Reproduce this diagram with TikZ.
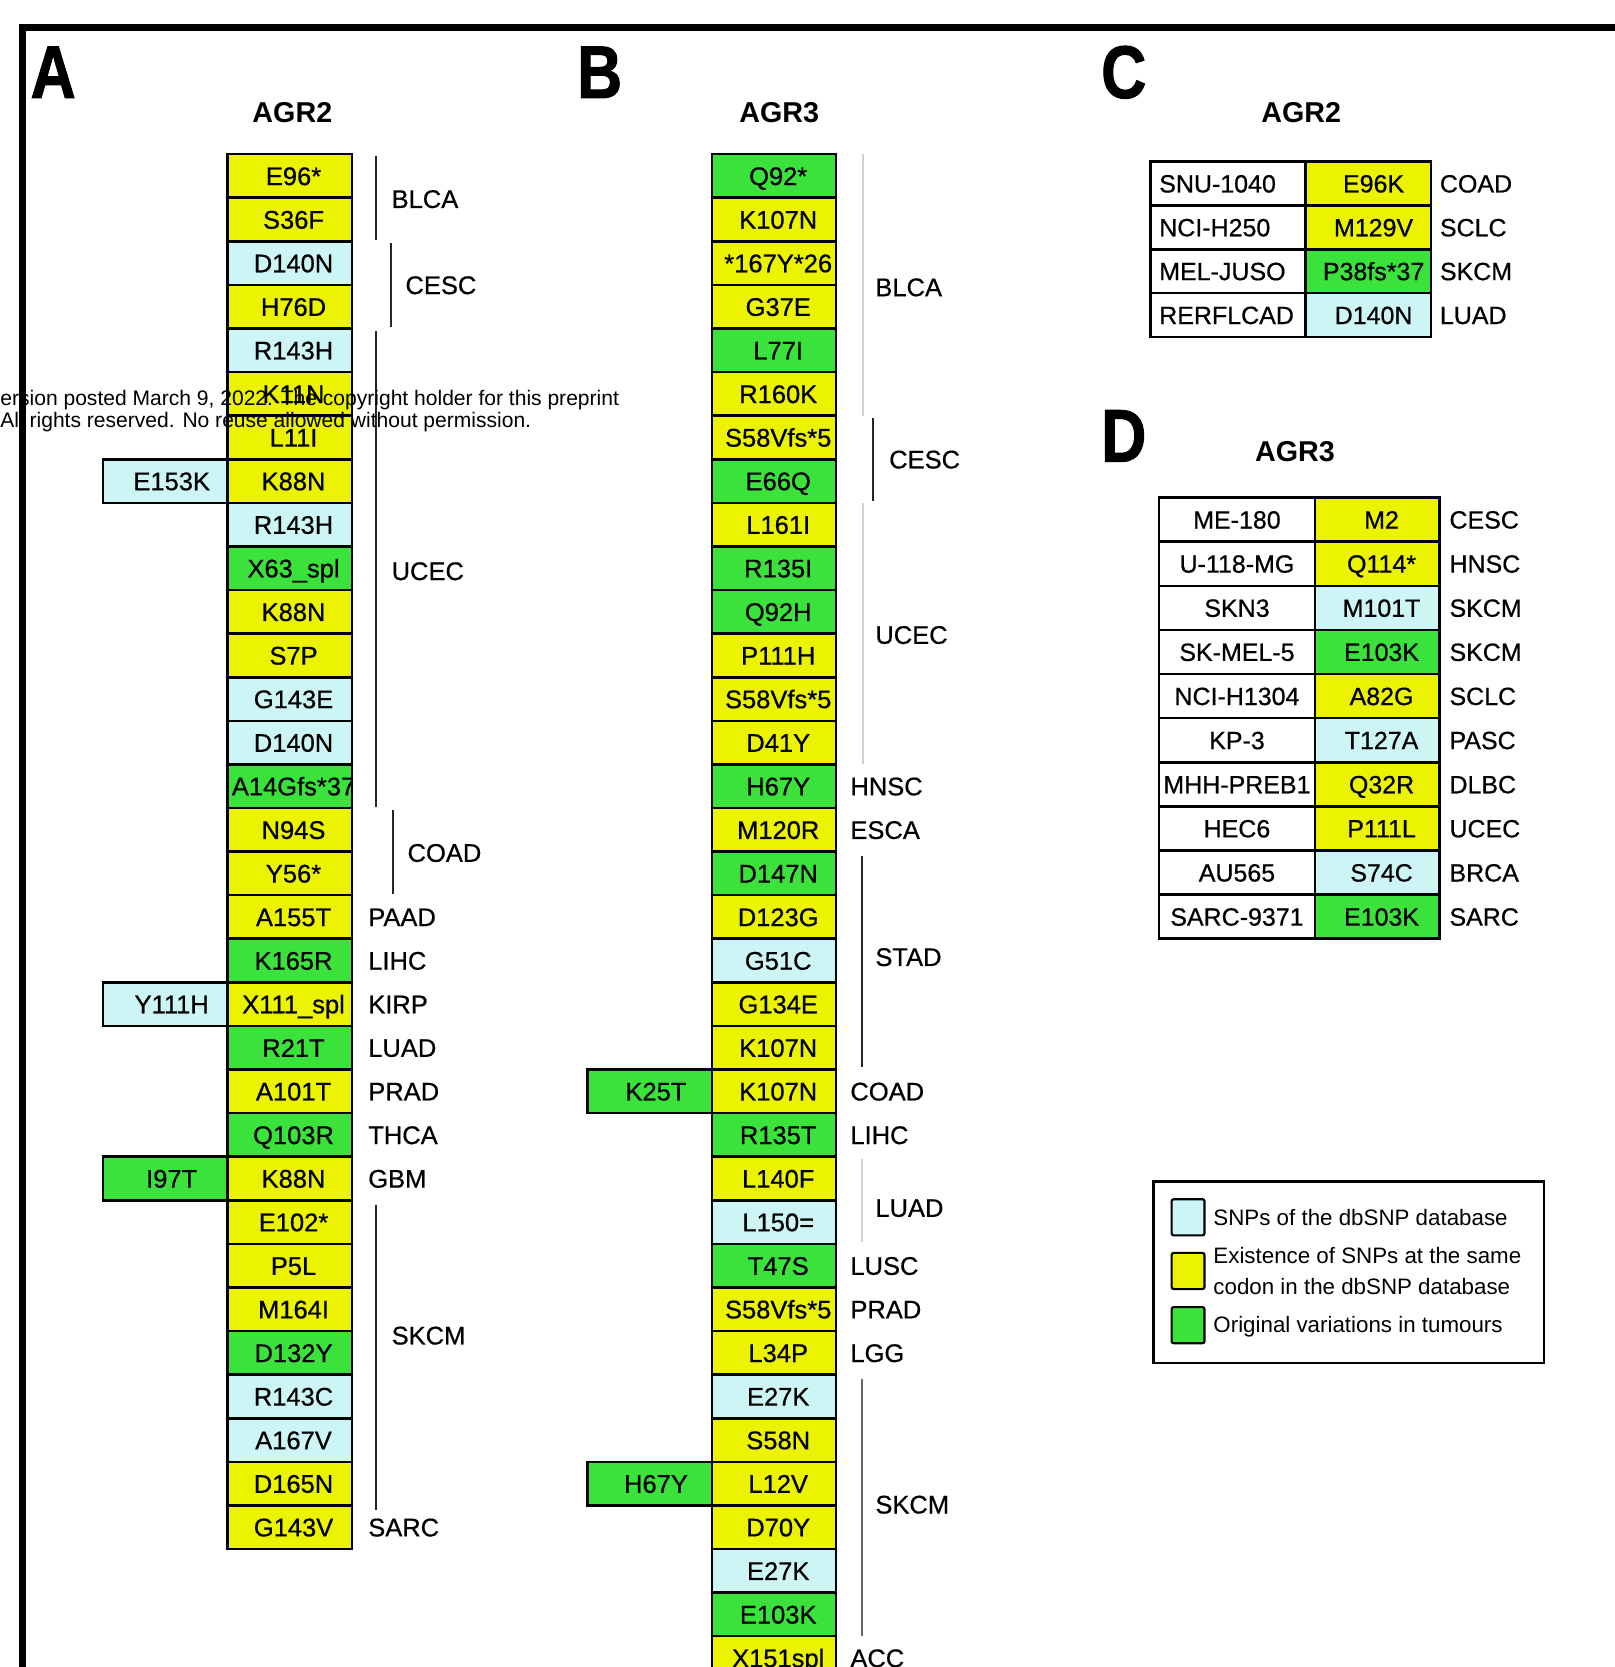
\documentclass[tikz,border=0pt]{standalone}
\usepackage{fontspec}
\setmainfont{Liberation Sans}
\newfontfamily\heavyfont{Liberation Sans}[FakeBold=0.6]
\newfontfamily\bigfont{Liberation Sans Bold}[FakeBold=1.5]
\usepackage{graphicx}
\definecolor{cy}{RGB}{205,245,245}
\definecolor{ye}{RGB}{236,243,0}
\definecolor{gr}{RGB}{60,226,60}
\newcommand\bigvs[1]{\scalebox{1.05}[1.25]{#1}}
\def\listA{ye/E96*, ye/S36F, cy/D140N, ye/H76D, cy/R143H, ye/K11N, ye/L11I, ye/K88N, cy/R143H, gr/X63\_spl, ye/K88N, ye/S7P, cy/G143E, cy/D140N, gr/A14Gfs*37, ye/N94S, ye/Y56*, ye/A155T, gr/K165R, ye/X111\_spl, gr/R21T, ye/A101T, gr/Q103R, ye/K88N, ye/E102*, ye/P5L, ye/M164I, gr/D132Y, cy/R143C, cy/A167V, ye/D165N, ye/G143V}
\def\listB{gr/Q92*, ye/K107N, ye/*167Y*26, ye/G37E, gr/L77I, ye/R160K, ye/S58Vfs*5, gr/E66Q, ye/L161I, gr/R135I, gr/Q92H, ye/P111H, ye/S58Vfs*5, ye/D41Y, gr/H67Y, ye/M120R, gr/D147N, ye/D123G, cy/G51C, ye/G134E, ye/K107N, ye/K107N, gr/R135T, ye/L140F, cy/L150=, gr/T47S, ye/S58Vfs*5, ye/L34P, cy/E27K, ye/S58N, ye/L12V, ye/D70Y, cy/E27K, gr/E103K, ye/X151spl}
\begin{document}
\begin{tikzpicture}[x=0.5pt,y=-0.5pt,
  cellbox/.style={draw=black, line width=1.2pt, minimum width=58.5pt, minimum height=20.5pt, inner sep=0pt, outer sep=0pt},
  mut/.style={font=\heavyfont\fontsize{12}{12}\selectfont, inner sep=0pt, text height=8.6pt, text depth=0pt},
  can/.style={font=\heavyfont\fontsize{12}{12}\selectfont, inner sep=0pt, anchor=west, text height=8.6pt, text depth=0pt},
  brk/.style={line width=1pt, black!85},
  fbrk/.style={line width=0.8pt, black!18},
  ttl/.style={font=\bfseries\fontsize{13.5}{13.5}\selectfont, inner sep=0pt},
  big/.style={font=\bigfont\fontsize{28}{28}\selectfont, inner sep=0pt},
  tcell/.style={draw=black, line width=1.2pt, inner sep=0pt, outer sep=0pt},
  tx/.style={font=\heavyfont\fontsize{11.75}{11.75}\selectfont, inner sep=0pt, text height=8.4pt, text depth=0pt},
  legtx/.style={font=\fontsize{10.5}{10.5}\selectfont, inner sep=0pt, anchor=west, text height=7.5pt, text depth=0pt},
  sw/.style={draw=black, line width=1pt, rounded corners=1pt, minimum width=15.5pt, minimum height=17pt, inner sep=0pt},
  wm/.style={font=\fontsize{9.9}{9.9}\selectfont, inner sep=0pt, anchor=west, text height=7.1pt, text depth=0pt}
]
\useasboundingbox (0,0) rectangle (1519,1568);
% frame
\draw[line width=3pt] (21,1568) -- (21,26) -- (1519,26);
% panel letters and titles
\node[big] (lA) at (50,68) {\bigvs{A}};
\node[big] (lB) at (564,68) {\bigvs{B}};
\node[big] (lC) at (1057,68) {\bigvs{C}};
\node[big] (lD) at (1057,410) {\bigvs{D}};
\node[ttl] (tA) at (275,106) {AGR2};
\node[ttl] (tB) at (733,106) {AGR3};
\node[ttl] (tC) at (1224,106) {AGR2};
\node[ttl] (tD) at (1218,425) {AGR3};

% ---------------- Panel A ----------------
\foreach \c/\t [count=\i] in \listA {
  \node[cellbox, fill=\c] (a\i) at (272.5,{145+(\i-0.5)*41}) {};
}
\node[cellbox, fill=cy, anchor=east] (xa8) at (a8.west) {};
\node[cellbox, fill=cy, anchor=east] (xa20) at (a20.west) {};
\node[cellbox, fill=gr, anchor=east] (xa24) at (a24.west) {};
\begin{scope}
\clip (214,145) rectangle (331,1457);
\foreach \c/\t [count=\i] in \listA {
  \node[mut] (ta\i) at ([xshift=1.8pt]a\i.center) {\t};
}
\end{scope}
\node[mut] (txa8) at ([xshift=3pt]xa8.center) {E153K};
\node[mut] (txa20) at ([xshift=3pt]xa20.center) {Y111H};
\node[mut] (txa24) at ([xshift=3pt]xa24.center) {I97T};
% brackets A
\draw[brk] ([xshift=11.5pt,yshift=-1pt]a1.north east) -- ([xshift=11.5pt,yshift=0.5pt]a2.south east);
\draw[brk] ([xshift=18.5pt,yshift=-1pt]a3.north east) -- ([xshift=18.5pt,yshift=0.5pt]a4.south east);
\draw[brk] ([xshift=11.5pt,yshift=-1pt]a5.north east) -- ([xshift=11.5pt,yshift=0.5pt]a15.south east);
\draw[brk] ([xshift=19.5pt,yshift=-1pt]a16.north east) -- ([xshift=19.5pt,yshift=0.5pt]a17.south east);
\draw[brk] ([xshift=11.5pt,yshift=-2pt]a25.north east) -- ([xshift=11.5pt,yshift=-2pt]a31.south east);
\node[can] (cA1) at (368,187) {BLCA};
\node[can] (cA2) at (381,268) {CESC};
\node[can] (cA3) at (368,537) {UCEC};
\node[can] (cA4) at (383,802) {COAD};
\node[can] (cA5) at (368,1256) {SKCM};
\node[can] (cA6) at ([xshift=7.5pt]a18.east) {PAAD};
\node[can] (cA7) at ([xshift=7.5pt]a19.east) {LIHC};
\node[can] (cA8) at ([xshift=7.5pt]a20.east) {KIRP};
\node[can] (cA9) at ([xshift=7.5pt]a21.east) {LUAD};
\node[can] (cA10) at ([xshift=7.5pt]a22.east) {PRAD};
\node[can] (cA11) at ([xshift=7.5pt]a23.east) {THCA};
\node[can] (cA12) at ([xshift=7.5pt]a24.east) {GBM};
\node[can] (cA13) at ([xshift=7.5pt]a32.east) {SARC};

% ---------------- Panel B ----------------
\foreach \c/\t [count=\i] in \listB {
  \node[cellbox, fill=\c] (b\i) at (728,{145+(\i-0.5)*41}) {};
}
\node[cellbox, fill=gr, anchor=east] (xb22) at (b22.west) {};
\node[cellbox, fill=gr, anchor=east] (xb31) at (b31.west) {};
\begin{scope}
\clip (669,145) rectangle (787,1568);
\foreach \c/\t [count=\i] in \listB {
  \node[mut] (tb\i) at ([xshift=2pt]b\i.center) {\t};
}
\end{scope}
\node[mut] (txb22) at ([xshift=3pt]xb22.center) {K25T};
\node[mut] (txb31) at ([xshift=3pt]xb31.center) {H67Y};
% brackets B
\draw[fbrk] ([xshift=12.5pt]b1.north east) -- ([xshift=12.5pt]b6.south east);
\draw[brk] ([xshift=17.5pt,yshift=-1pt]b7.north east) -- ([xshift=17.5pt,yshift=1pt]b8.south east);
\draw[fbrk] ([xshift=12.5pt]b9.north east) -- ([xshift=12.5pt]b14.south east);
\draw[brk] ([xshift=12pt,yshift=-2pt]b17.north east) -- ([xshift=12pt,yshift=1pt]b21.south east);
\draw[fbrk] ([xshift=12pt,yshift=-1pt]b24.north east) -- ([xshift=12pt,yshift=1pt]b25.south east);
\draw[line width=0.9pt, black!60] ([xshift=12pt,yshift=-2pt]b29.north east) -- ([xshift=12pt,yshift=0pt]b34.south east);
\node[can] (cB1) at (823,270) {BLCA};
\node[can] (cB2) at (836,432) {CESC};
\node[can] (cB3) at (823,597) {UCEC};
\node[can] (cB4) at ([xshift=6.5pt]b15.east) {HNSC};
\node[can] (cB5) at ([xshift=6.5pt]b16.east) {ESCA};
\node[can] (cB6) at (823,900) {STAD};
\node[can] (cB7) at ([xshift=6.5pt]b22.east) {COAD};
\node[can] (cB8) at ([xshift=6.5pt]b23.east) {LIHC};
\node[can] (cB9) at (823,1136) {LUAD};
\node[can] (cB10) at ([xshift=6.5pt]b26.east) {LUSC};
\node[can] (cB11) at ([xshift=6.5pt]b27.east) {PRAD};
\node[can] (cB12) at ([xshift=6.5pt]b28.east) {LGG};
\node[can] (cB13) at (823,1415) {SKCM};
\node[can] (cB14) at ([xshift=6.5pt]b35.east) {ACC};

% ---------------- Panel C ----------------
\foreach \cl/\c/\m/\ca [count=\i] in {SNU-1040/ye/E96K/COAD, NCI-H250/ye/M129V/SCLC, MEL-JUSO/gr/P38fs*37/SKCM, RERFLCAD/cy/D140N/LUAD} {
  \node[tcell, fill=white, minimum width=73pt, minimum height=20.625pt] (cl\i) at (1155,{152+(\i-0.5)*41.25}) {};
  \node[tcell, fill=\c, minimum width=59pt, minimum height=20.625pt] (cm\i) at (1287,{152+(\i-0.5)*41.25}) {};
  \node[tx, anchor=west] (clt\i) at ([xshift=4pt]cl\i.west) {\cl};
  \node[tx] (cmt\i) at ([xshift=2.5pt]cm\i.center) {\m};
  \node[tx, anchor=west] (cca\i) at ([xshift=4pt]cm\i.east) {\ca};
}

% ---------------- Panel D ----------------
\foreach \cl/\c/\m/\ca [count=\i] in {ME-180/ye/M2/CESC, U-118-MG/ye/Q114*/HNSC, SKN3/cy/M101T/SKCM, SK-MEL-5/gr/E103K/SKCM, NCI-H1304/ye/A82G/SCLC, KP-3/cy/T127A/PASC, MHH-PREB1/ye/Q32R/DLBC, HEC6/ye/P111L/UCEC, AU565/cy/S74C/BRCA, SARC-9371/gr/E103K/SARC} {
  \node[tcell, fill=white, minimum width=73.5pt, minimum height=20.75pt] (dl\i) at (1163.5,{468+(\i-0.5)*41.5}) {};
  \node[tcell, fill=\c, minimum width=58.5pt, minimum height=20.75pt] (dm\i) at (1295.5,{468+(\i-0.5)*41.5}) {};
  \node[tx] (dlt\i) at (dl\i.center) {\cl};
  \node[tx] (dmt\i) at ([xshift=2pt]dm\i.center) {\m};
  \node[tx, anchor=west] (dca\i) at ([xshift=4.5pt]dm\i.east) {\ca};
}

% ---------------- Legend ----------------
\node[draw=black, line width=1.2pt, minimum width=183.5pt, minimum height=85.5pt, inner sep=0pt, anchor=north west] (leg) at (1084,1110) {};
\node[sw, fill=cy] (sw1) at (1117.5,1145) {};
\node[sw, fill=ye] (sw2) at (1117.5,1195.5) {};
\node[sw, fill=gr] (sw3) at (1117.5,1246.5) {};
\node[legtx] (lg1) at (1141,1145) {SNPs of the dbSNP database};
\node[legtx] (lg2) at (1141,1181) {Existence of SNPs at the same};
\node[legtx] (lg3) at (1141,1210) {codon in the dbSNP database};
\node[legtx] (lg4) at (1141,1246) {Original variations in tumours};

% ---------------- watermark ----------------
\node[wm] (wm1) at (0,374) {ersion posted March 9, 2022. The copyright holder for this preprint};
\node[wm] (wm2) at (0,395) {All rights reserved. No reuse allowed without permission.};
\end{tikzpicture}
\end{document}
